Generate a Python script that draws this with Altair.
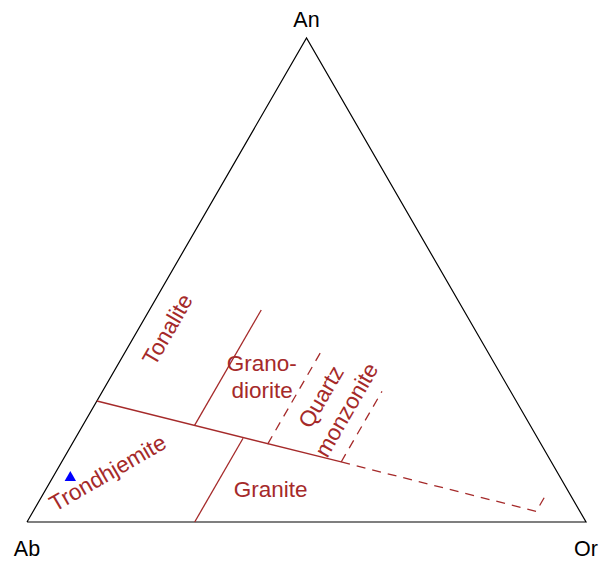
import math
import altair as alt
import pandas as pd

# Feldspar ternary (An - Ab - Or), compositions in percent; Ab = 100 - An - Or
vertex_names = ["Ab", "Or", "An"]
vertex_an = [0, 0, 100]
vertex_or = [0, 100, 0]

# Field boundaries: each as paired An / Or lists
bound_main_an = [25, 12.4]          # tonalite-granodiorite / trondhjemite-granite
bound_main_or = [0, 50]
bound_main_ext_an = [12.4, 2.2, 5.4]  # dashed continuation and end tick
bound_main_ext_or = [50, 90, 90]
bound_or20_an = [19.9, 43.8]
bound_or20_or = [20, 20]
bound_or30_an = [0, 17.3]
bound_or30_or = [30, 30]
bound_or35_an = [16.1, 35.5]
bound_or35_or = [35, 35]
bound_or50_an = [12.4, 27.0]
bound_or50_or = [50, 50]

# Field names and their centres (An, Or)
upright_names = ["Grano-", "diorite", "Granite"]
upright_an = [32.6, 27.1, 6.6]
upright_or = [25.7, 28.5, 40.3]
steep_names = ["Tonalite", "Quartz", "monzonite"]
steep_an = [39.7, 25.8, 23.1]
steep_or = [5.4, 39.8, 45.7]
tilted_names = ["Trondhjemite"]
tilted_an = [10.0]
tilted_or = [9.5]

# Sample
sample_an = [9.5]
sample_or = [3.0]

H = math.sqrt(3) / 2


def to_xy(an, orr):
    return [o + a / 2 for a, o in zip(an, orr)], [a * H for a in an]


def path_frame(an, orr, name):
    xs, ys = to_xy(an, orr)
    return pd.DataFrame({"x": xs, "y": ys, "seg": name, "k": range(len(xs))})


def point_frame(an, orr, names=None):
    xs, ys = to_xy(an, orr)
    d = pd.DataFrame({"x": xs, "y": ys})
    if names is not None:
        d["label"] = names
    return d


xs = alt.Scale(domain=[-4.83, 102.68], nice=False, zero=False)
ys = alt.Scale(domain=[-7.157, 93.40], nice=False, zero=False)
X = alt.X("x:Q", scale=xs, axis=None)
Y = alt.Y("y:Q", scale=ys, axis=None)

BROWN = "#a52a2a"
FONT = "Liberation Sans"

frame = path_frame(vertex_an + [vertex_an[0]], vertex_or + [vertex_or[0]], "frame")
solid = pd.concat([
    path_frame(bound_main_an, bound_main_or, "main"),
    path_frame(bound_or20_an, bound_or20_or, "or20"),
    path_frame(bound_or30_an, bound_or30_or, "or30"),
])
dashed = pd.concat([
    path_frame(bound_main_ext_an, bound_main_ext_or, "ext"),
    path_frame(bound_or35_an, bound_or35_or, "or35"),
    path_frame(bound_or50_an, bound_or50_or, "or50"),
])

frame_layer = alt.Chart(frame).mark_line(color="black", strokeWidth=1.2).encode(
    x=X, y=Y, order="k:O", detail="seg:N")
solid_layer = alt.Chart(solid).mark_line(color=BROWN, strokeWidth=1.3).encode(
    x=X, y=Y, order="k:O", detail="seg:N")
dashed_layer = alt.Chart(dashed).mark_line(
    color=BROWN, strokeWidth=1.3, strokeDash=[9, 7]).encode(
    x=X, y=Y, order="k:O", detail="seg:N")


def text_layer(df, angle):
    return alt.Chart(df).mark_text(
        font=FONT, fontSize=22.5, color=BROWN, angle=angle,
        align="center", baseline="middle").encode(x=X, y=Y, text="label:N")


upright = text_layer(point_frame(upright_an, upright_or, upright_names), 0)
steep = text_layer(point_frame(steep_an, steep_or, steep_names), 300)
tilted = text_layer(point_frame(tilted_an, tilted_or, tilted_names), 330)

vdf = point_frame(vertex_an, vertex_or, vertex_names)
bottom_labels = alt.Chart(vdf[vdf.label != "An"]).mark_text(
    font=FONT, fontSize=21.5, color="black", baseline="middle", dy=28).encode(
    x=X, y=Y, text="label:N")
top_label = alt.Chart(vdf[vdf.label == "An"]).mark_text(
    font=FONT, fontSize=21.5, color="black", baseline="middle", dy=-17).encode(
    x=X, y=Y, text="label:N")

sample = alt.Chart(point_frame(sample_an, sample_or)).mark_point(
    shape="triangle-up", filled=True, color="blue", opacity=1, size=130).encode(
    x=X, y=Y)

chart = alt.layer(
    frame_layer, solid_layer, dashed_layer, upright, steep, tilted,
    bottom_labels, top_label, sample,
).properties(
    width=601, height=562, autosize=alt.AutoSizeParams(type="none"), padding=0,
).configure_view(stroke=None)

chart.save("out.html", embed_options={"renderer": "svg", "actions": False})
